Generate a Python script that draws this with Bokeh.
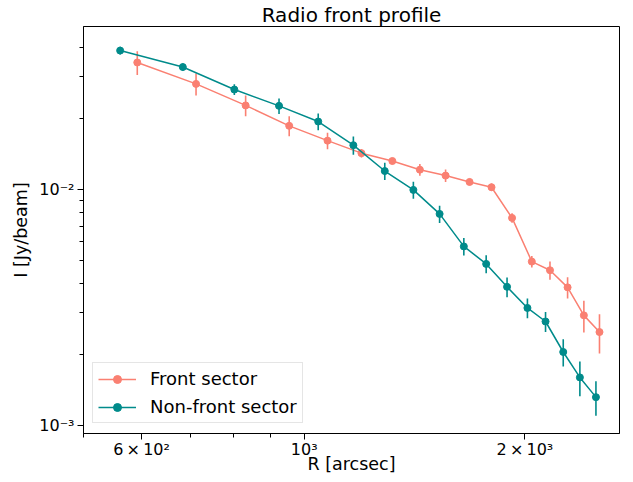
from bokeh.plotting import figure
from bokeh.models import FixedTicker, Legend, LegendItem, ColumnDataSource, Range1d
from bokeh.embed import file_html
from bokeh.resources import INLINE

# ---- data ----
front_r = [592, 712, 832, 954, 1076, 1197, 1319, 1438, 1559, 1681, 1801, 1921, 2044, 2164, 2287, 2407, 2528]
front_i = [0.0345, 0.0280, 0.0227, 0.0186, 0.0161, 0.01425, 0.0132, 0.01213, 0.01145, 0.01076,
           0.01022, 0.00758, 0.00495, 0.00455, 0.00385, 0.00293, 0.00249]
front_err = [0.0040, 0.0030, 0.0023, 0.0018, 0.0013, 0.0006, 0.0004, 0.0007, 0.0007, 0.00035,
             0.00037, 0.00035, 0.00028, 0.0004, 0.0004, 0.00045, 0.00047]

nonfront_r = [561, 683, 803, 924, 1045, 1167, 1288, 1409, 1530, 1651, 1771, 1891, 2016, 2134, 2256, 2377, 2500]
nonfront_i = [0.03875, 0.0330, 0.0265, 0.0226, 0.0194, 0.0154, 0.01197, 0.00996, 0.00788, 0.00574,
              0.00484, 0.00387, 0.00315, 0.00276, 0.00205, 0.0016, 0.00132]
nonfront_err = [0.0015, 0.0012, 0.0014, 0.0017, 0.0016, 0.00136, 0.0010, 0.00083, 0.00066, 0.00049,
                0.00042, 0.00037, 0.0003, 0.00027, 0.00027, 0.00027, 0.00022]

series_labels = ["Front sector", "Non-front sector"]
series_colors = ["#fa8072", "#008b8b"]

x_ticks = [600, 1000, 2000]
x_tick_labels = ["6\u2009\u00d7\u200910\u00b2", "10\u00b3", "2\u2009\u00d7\u200910\u00b3"]
x_minor_ticks = [500, 700, 800, 900]
y_ticks = [0.001, 0.01]
y_tick_labels = ["10\u207b\u00b3", "10\u207b\u00b2"]
y_minor_ticks = [0.002, 0.003, 0.004, 0.005, 0.006, 0.007, 0.008, 0.009, 0.02, 0.03, 0.04]

title_text = "Radio front profile"
x_label = "R [arcsec]"
y_label = "I [Jy/beam]"

FONT = "DejaVu Sans"
W, H = 633, 476
ML, MR, MT, MB = 83, 14, 25, 41

p = figure(width=W, height=H, x_axis_type="log", y_axis_type="log",
           x_range=Range1d(500, 2692), y_range=Range1d(9.26e-4, 0.049),
           output_backend="svg", toolbar_location=None,
           min_border_left=ML, min_border_right=MR, min_border_top=MT, min_border_bottom=MB)

p.title.text = title_text
p.title.align = "center"
p.title.text_font = FONT
p.title.text_font_size = "20px"
p.title.text_font_style = "normal"
p.title.text_color = "black"
p.title.standoff = 0

p.xgrid.visible = False
p.ygrid.visible = False
p.outline_line_color = "black"
p.outline_line_alpha = 1
p.outline_line_width = 1
p.background_fill_color = "white"
p.border_fill_color = "white"

p.xaxis.ticker = FixedTicker(ticks=x_ticks, minor_ticks=x_minor_ticks)
p.xaxis.major_label_overrides = {t: l for t, l in zip(x_ticks, x_tick_labels)}
p.yaxis.ticker = FixedTicker(ticks=y_ticks, minor_ticks=y_minor_ticks)
p.yaxis.major_label_overrides = {t: l for t, l in zip(y_ticks, y_tick_labels)}

for ax in (p.xaxis, p.yaxis):
    ax.axis_line_color = "black"
    ax.axis_line_width = 1
    ax.major_tick_line_color = "black"
    ax.minor_tick_line_color = "black"
    ax.major_tick_out = 6
    ax.major_tick_in = 0
    ax.minor_tick_out = 4
    ax.minor_tick_in = 0
    ax.major_label_text_font = FONT
    ax.major_label_text_font_size = "16px"
    ax.major_label_text_color = "black"
    ax.axis_label_text_font = FONT
    ax.axis_label_text_font_size = "17.5px"
    ax.axis_label_text_font_style = "normal"
    ax.axis_label_text_color = "black"

p.xaxis.major_label_standoff = 0
p.xaxis.axis_label = x_label
p.xaxis.axis_label_standoff = -8
p.yaxis.major_label_standoff = 3
p.yaxis.axis_label = y_label
p.yaxis.axis_label_standoff = 5

renderers = []
for r, i, e, c in [(front_r, front_i, front_err, series_colors[0]),
                   (nonfront_r, nonfront_i, nonfront_err, series_colors[1])]:
    src = ColumnDataSource(dict(x=r, y=i,
                                lo=[a - b for a, b in zip(i, e)],
                                hi=[a + b for a, b in zip(i, e)]))
    p.segment(x0="x", y0="lo", x1="x", y1="hi", source=src, line_color=c, line_width=1.6)
    ln = p.line("x", "y", source=src, line_color=c, line_width=1.5)
    sc = p.scatter("x", "y", source=src, size=7, fill_color=c, line_color=c, marker="circle")
    renderers.append([ln, sc])

legend = Legend(items=[LegendItem(label=series_labels[k], renderers=renderers[k]) for k in range(2)],
                location=(9, 10), glyph_width=38, glyph_height=20, label_height=20,
                label_standoff=14, spacing=7, padding=5, margin=0,
                label_text_font=FONT, label_text_font_size="18px", label_text_color="black",
                border_line_color="#cccccc", border_line_width=1,
                background_fill_color="white", background_fill_alpha=0.8)
p.add_layout(legend)

open("out.html", "w").write(file_html(p, INLINE))
